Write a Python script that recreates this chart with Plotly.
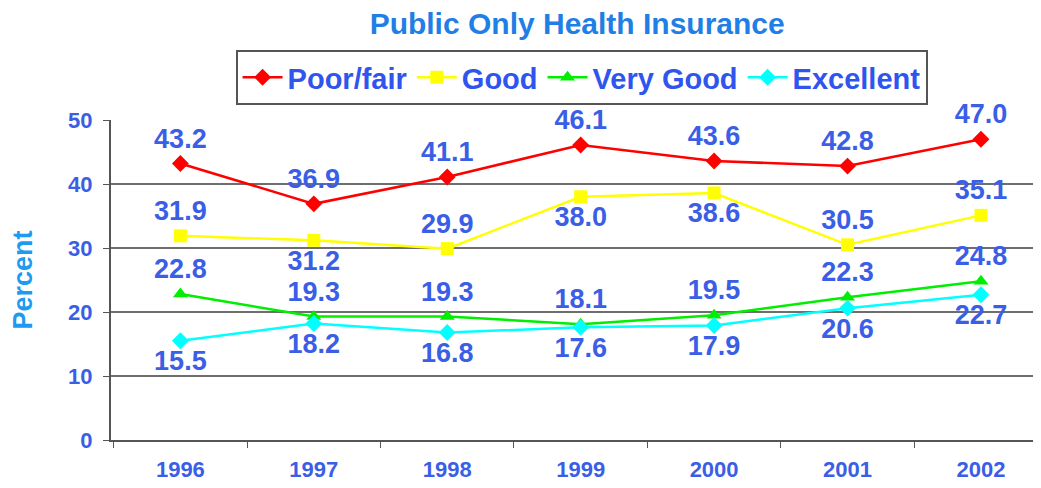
import plotly.graph_objects as go

years = ["1996", "1997", "1998", "1999", "2000", "2001", "2002"]
poor_fair = [43.2, 36.9, 41.1, 46.1, 43.6, 42.8, 47.0]
good = [31.9, 31.2, 29.9, 38.0, 38.6, 30.5, 35.1]
very_good = [22.8, 19.3, 19.3, 18.1, 19.5, 22.3, 24.8]
excellent = [15.5, 18.2, 16.8, 17.6, 17.9, 20.6, 22.7]

FONT = "Arial, Liberation Sans, sans-serif"
label_blue = "#3a5ee6"

series = [
    ("Poor/fair", poor_fair, "#ff0000", "diamond", 13, ["top center"] * 7),
    ("Good", good, "#ffff00", "square", 13,
     ["top center", "bottom center", "top center", "bottom center",
      "bottom center", "top center", "top center"]),
    ("Very Good", very_good, "#00ee00", "triangle-up", 13, ["top center"] * 7),
    ("Excellent", excellent, "#00ffff", "diamond", 13, ["bottom center"] * 7),
]

fig = go.Figure()
for name, vals, col, sym, size, pos in series:
    fig.add_trace(go.Scatter(
        x=years, y=vals, name=name, mode="lines+markers+text",
        line=dict(color=col, width=2.5),
        marker=dict(symbol=sym, size=size, color=col),
        text=[f"{v:.1f}" for v in vals],
        textposition=pos,
        textfont=dict(family=FONT, size=27, color=label_blue, weight="bold"),
        cliponaxis=False,
    ))

# page body has an 8px margin -> figure made 8px smaller
fig.update_layout(
    width=1033, height=480,
    margin=dict(l=103, r=0, t=112, b=48, autoexpand=False),
    paper_bgcolor="white", plot_bgcolor="white",
    title=dict(text="<b>Public Only Health Insurance</b>", x=0.551, xanchor="center",
               y=0.967, yanchor="middle",
               font=dict(family=FONT, size=30, color="#1f7fe6")),
    legend=dict(orientation="h", x=0.506, xanchor="center", y=1.219, yanchor="top",
                bordercolor="#555555", borderwidth=2, bgcolor="white",
                font=dict(family=FONT, size=29, color="#2f55ee", weight="bold"),
                itemwidth=40, tracegroupgap=0),
    showlegend=True,
)
fig.update_xaxes(
    range=[-0.52, 6.45], showgrid=False, showline=True, linecolor="#555555", linewidth=2,
    ticks="outside", tickson="boundaries", ticklen=6, tickcolor="#555555",
    ticklabelstandoff=9,
    tickfont=dict(family=FONT, size=22, color="#3a5ee6", weight="bold"),
    automargin=False,
)
fig.update_yaxes(
    range=[0, 50], dtick=10, showgrid=True, gridcolor="#6e6e6e", gridwidth=2,
    showline=True, linecolor="#555555", linewidth=2, zeroline=False,
    ticks="outside", ticklen=6, tickcolor="#555555",
    ticklabelstandoff=6,
    tickfont=dict(family=FONT, size=22, color="#3a5ee6", weight="bold"),
    title=dict(text="Percent", standoff=35,
               font=dict(family=FONT, size=27, color="#1e9bf0", weight="bold")),
    automargin=False,
)

fig.write_html("out.html")
